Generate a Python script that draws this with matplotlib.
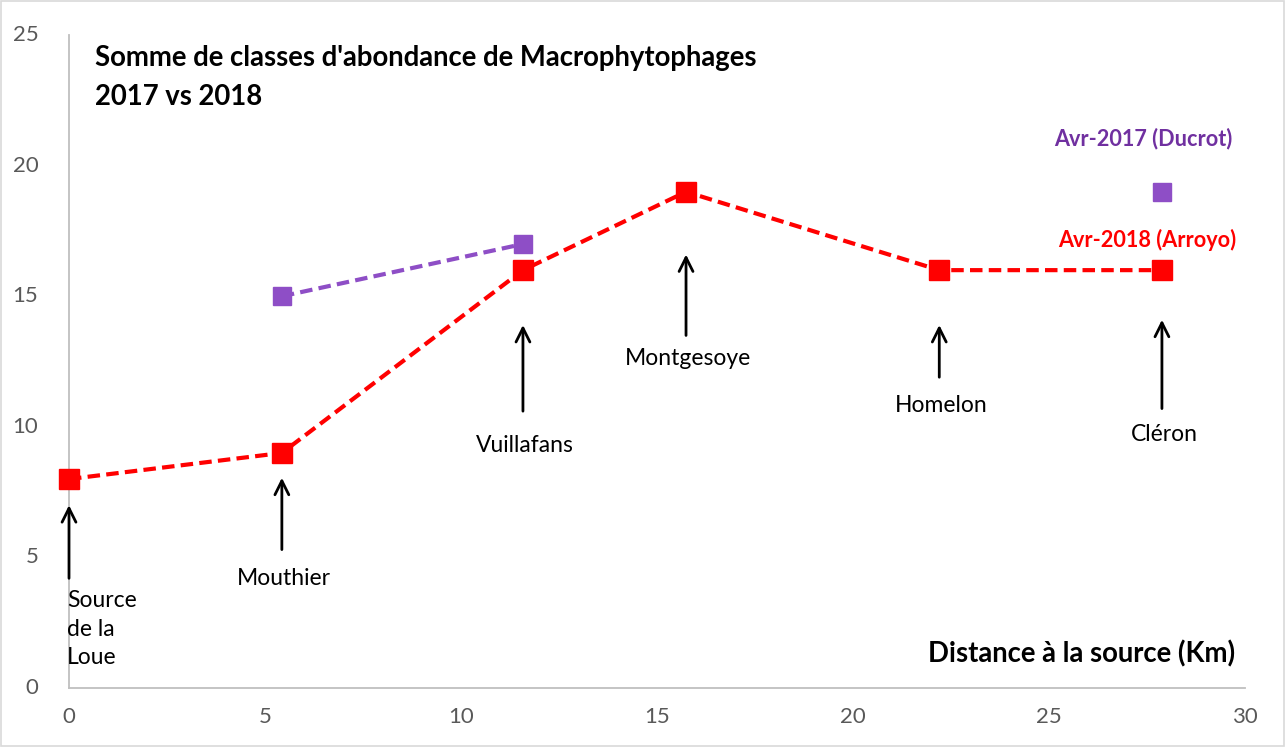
import matplotlib
matplotlib.use('Agg')
import matplotlib.pyplot as plt
import numpy as np
from matplotlib.patches import Rectangle

plt.rcParams['font.family'] = ['Lato', 'DejaVu Sans']

# Data
dist = [0, 5.43, 11.58, 15.74, 22.2, 27.88]
score_2018 = [8, 9, 16, 19, 16, 16]
score_2017 = [np.nan, 15, 17, np.nan, np.nan, 19]
sites = ['Source\nde la\nLoue', 'Mouthier', 'Vuillafans', 'Montgesoye', 'Homelon', 'Cléron']
arrow_tail = [4.2, 5.3, 10.6, 13.5, 11.9, 10.7]
arrow_tip = [7.0, 8.05, 13.9, 16.6, 13.9, 14.1]
label_y = [3.75, 4.2, 9.3, 12.6, 10.8, 9.7]

fig = plt.figure(figsize=(12.85, 7.47), dpi=100)
ax = fig.add_axes([0.0537, 0.079, 0.9152, 0.874])
fig.patches.append(Rectangle((0.001, 0.001), 0.998, 0.997, transform=fig.transFigure,
                             fill=False, edgecolor='#D9D9D9', linewidth=1.2))

red = '#FF0000'
purple = '#8E4EC6'

d = np.array(dist)
s17 = np.array(score_2017)
# 2017 series: connected segment + isolated point
ax.plot(d[1:3], s17[1:3], linestyle='--', color=purple, linewidth=3,
        marker='s', markersize=13, dashes=(3, 1.5), zorder=3, clip_on=False)
ax.plot(d[5:], s17[5:], linestyle='none', color=purple, marker='s', markersize=13,
        zorder=3, clip_on=False)
ax.plot(dist, score_2018, linestyle='--', color=red, linewidth=3,
        marker='s', markersize=14, dashes=(3, 1.5), zorder=4, clip_on=False)

for i, name in enumerate(sites):
    ax.annotate('', xy=(dist[i], arrow_tip[i]), xytext=(dist[i], arrow_tail[i]),
                arrowprops=dict(arrowstyle='->', color='black', lw=2,
                                mutation_scale=25, shrinkA=0, shrinkB=0))
    if i == 0:
        ax.text(dist[i] - 0.05, label_y[i], name, ha='left', va='top',
                fontsize=16.5, linespacing=1.45)
    else:
        ax.text(dist[i] + 0.05, label_y[i], name, ha='center', va='center', fontsize=16.5)

ax.text(0.66, 23.37, "Somme de classes d'abondance de Macrophytophages\n2017 vs 2018",
        ha='left', va='center', fontsize=19.8, fontweight='bold', linespacing=1.6)
ax.text(27.4, 21.05, 'Avr-2017 (Ducrot)', ha='center', va='center', fontsize=15.6,
        fontweight='bold', color='#7030A0')
ax.text(27.5, 17.15, 'Avr-2018 (Arroyo)', ha='center', va='center', fontsize=15.6,
        fontweight='bold', color=red)
ax.text(29.75, 1.3, 'Distance à la source (Km)', ha='right', va='center', fontsize=19.8,
        fontweight='bold')

ax.set_xlim(0, 30)
ax.set_ylim(0, 25)
ax.set_xticks(np.arange(0, 31, 5))
ax.set_yticks(np.arange(0, 26, 5))
ax.tick_params(length=0, labelsize=16, labelcolor='#595959', pad=14)
ax.tick_params(axis='y', pad=22)
for sp in ['top', 'right']:
    ax.spines[sp].set_visible(False)
for sp in ['left', 'bottom']:
    ax.spines[sp].set_color('#BFBFBF')
    ax.spines[sp].set_linewidth(1.3)
for lbl in ax.get_yticklabels():
    lbl.set_verticalalignment('center')

fig.savefig('out.png', dpi=100)
